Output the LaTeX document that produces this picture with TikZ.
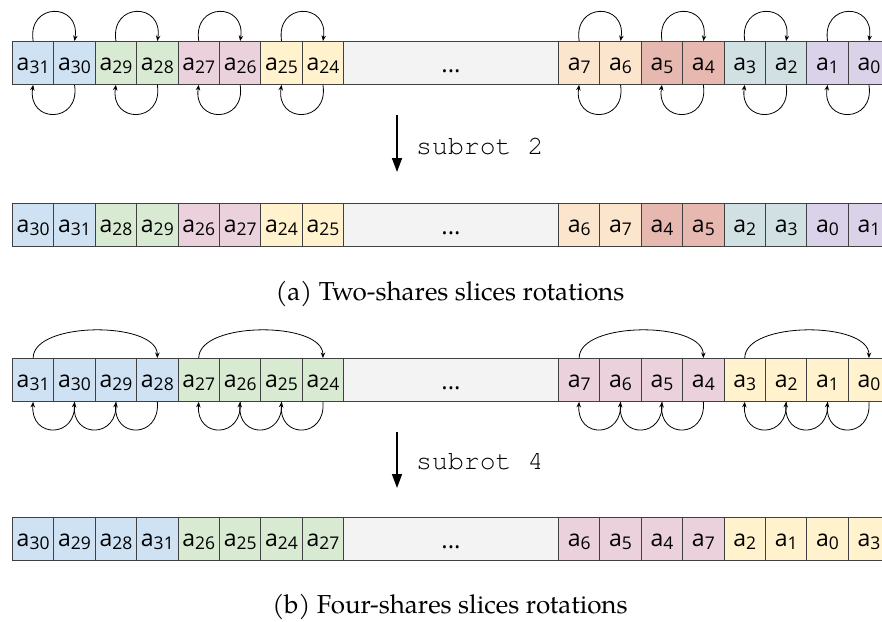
\documentclass[tikz,border=0pt]{standalone}
\usepackage{fontspec}
\setmainfont{TeX Gyre Pagella}
\newfontfamily\cellfont{Open Sans}
\newfontfamily\codefont{TeX Gyre Cursor}
\usetikzlibrary{arrows.meta}
\definecolor{cblue}{HTML}{CFE2F3}
\definecolor{cgreen}{HTML}{D9EAD3}
\definecolor{cpink}{HTML}{EAD1DC}
\definecolor{cyellow}{HTML}{FFF2CC}
\definecolor{corange}{HTML}{FCE5CD}
\definecolor{cred}{HTML}{E6B8AF}
\definecolor{cteal}{HTML}{D0E0E3}
\definecolor{cpurple}{HTML}{D9D2E9}
\definecolor{cgray}{HTML}{F3F3F3}
\newcommand\lab[1]{{\fontsize{23}{23}\selectfont a}\raisebox{-3.5pt}{\fontsize{17.5}{17.5}\selectfont #1}}
\tikzset{
  cell/.style={draw=black!75, line width=0.9pt, minimum width=41.4pt, minimum height=43pt,
    inner sep=0pt, anchor=north west, font=\cellfont, text height=18pt, text depth=3pt},
  dotsbox/.style={cell, fill=cgray, minimum width=215pt, text height=20pt, text depth=1pt,
    font=\cellfont\fontsize{24}{24}\selectfont},
  arc/.style={-{Stealth[length=5.5pt,width=4.5pt]}, line width=0.8pt},
  bigarrow/.style={-{Triangle[length=14pt,width=10pt]}, line width=1.6pt},
  codetext/.style={anchor=base west, inner sep=0pt, font=\codefont\fontsize{26.5}{26.5}\selectfont},
  captext/.style={anchor=base, inner sep=0pt, font=\fontsize{26}{26}\selectfont}
}
\begin{document}
\begin{tikzpicture}[x=1pt,y=-1pt]
\useasboundingbox (0,0) rectangle (882,621);
% ---------- row 1 ----------
\foreach \i/\n/\c in {0/31/cblue,1/30/cblue,2/29/cgreen,3/28/cgreen,4/27/cpink,5/26/cpink,6/25/cyellow,7/24/cyellow}
  \node[cell,fill=\c] (ra\n) at ({12+41.4*\i},41) {\lab{\n}};
\node[dotsbox] (radots) at (343,41) {...};
\foreach \i/\n/\c in {0/7/corange,1/6/corange,2/5/cred,3/4/cred,4/3/cteal,5/2/cteal,6/1/cpurple,7/0/cpurple}
  \node[cell,fill=\c] (ra\n) at ({558+41.4*\i},41) {\lab{\n}};
\foreach \a/\b in {31/30,29/28,27/26,25/24,7/6,5/4,3/2,1/0}{
  \draw[arc] (ra\a.north) .. controls +(-6,-39) and +(6,-39) .. (ra\b.north);
  \draw[arc] (ra\b.south) .. controls +(6,39) and +(-6,39) .. (ra\a.south);
}
% ---------- arrow subrot 2 ----------
\coordinate (s2a) at (397,115);
\coordinate (s2b) at (397,172);
\draw[bigarrow] (s2a) -- (s2b);
\node[codetext] (s2t) at (416,154) {subrot 2};
% ---------- row 2 ----------
\foreach \i/\n/\c in {0/30/cblue,1/31/cblue,2/28/cgreen,3/29/cgreen,4/26/cpink,5/27/cpink,6/24/cyellow,7/25/cyellow}
  \node[cell,fill=\c] (rb\n) at ({12+41.4*\i},203) {\lab{\n}};
\node[dotsbox] (rbdots) at (343,203) {...};
\foreach \i/\n/\c in {0/6/corange,1/7/corange,2/4/cred,3/5/cred,4/2/cteal,5/3/cteal,6/0/cpurple,7/1/cpurple}
  \node[cell,fill=\c] (rb\n) at ({558+41.4*\i},203) {\lab{\n}};
\node[captext] (capa) at (450,300) {(a) Two-shares slices rotations};
% ---------- row 3 ----------
\foreach \i/\n/\c in {0/31/cblue,1/30/cblue,2/29/cblue,3/28/cblue,4/27/cgreen,5/26/cgreen,6/25/cgreen,7/24/cgreen}
  \node[cell,fill=\c] (rc\n) at ({12+41.4*\i},358) {\lab{\n}};
\node[dotsbox] (rcdots) at (343,358) {...};
\foreach \i/\n/\c in {0/7/cpink,1/6/cpink,2/5/cpink,3/4/cpink,4/3/cyellow,5/2/cyellow,6/1/cyellow,7/0/cyellow}
  \node[cell,fill=\c] (rc\n) at ({558+41.4*\i},358) {\lab{\n}};
\foreach \a/\b in {31/28,27/24,7/4,3/0}
  \draw[arc] (rc\a.north) .. controls +(0,-37) and +(0,-37) .. (rc\b.north);
\foreach \a/\b in {28/29,29/30,30/31,24/25,25/26,26/27,4/5,5/6,6/7,0/1,1/2,2/3}
  \draw[arc] (rc\a.south) .. controls +(3,37) and +(-3,37) .. (rc\b.south);
% ---------- arrow subrot 4 ----------
\coordinate (s4a) at (397,432);
\coordinate (s4b) at (397,488);
\draw[bigarrow] (s4a) -- (s4b);
\node[codetext] (s4t) at (416,469) {subrot 4};
% ---------- row 4 ----------
\foreach \i/\n/\c in {0/30/cblue,1/29/cblue,2/28/cblue,3/31/cblue,4/26/cgreen,5/25/cgreen,6/24/cgreen,7/27/cgreen}
  \node[cell,fill=\c] (rd\n) at ({12+41.4*\i},517) {\lab{\n}};
\node[dotsbox] (rddots) at (343,517) {...};
\foreach \i/\n/\c in {0/6/cpink,1/5/cpink,2/4/cpink,3/7/cpink,4/2/cyellow,5/1/cyellow,6/0/cyellow,7/3/cyellow}
  \node[cell,fill=\c] (rd\n) at ({558+41.4*\i},517) {\lab{\n}};
\node[captext] (capb) at (450,613) {(b) Four-shares slices rotations};
\end{tikzpicture}
\end{document}
